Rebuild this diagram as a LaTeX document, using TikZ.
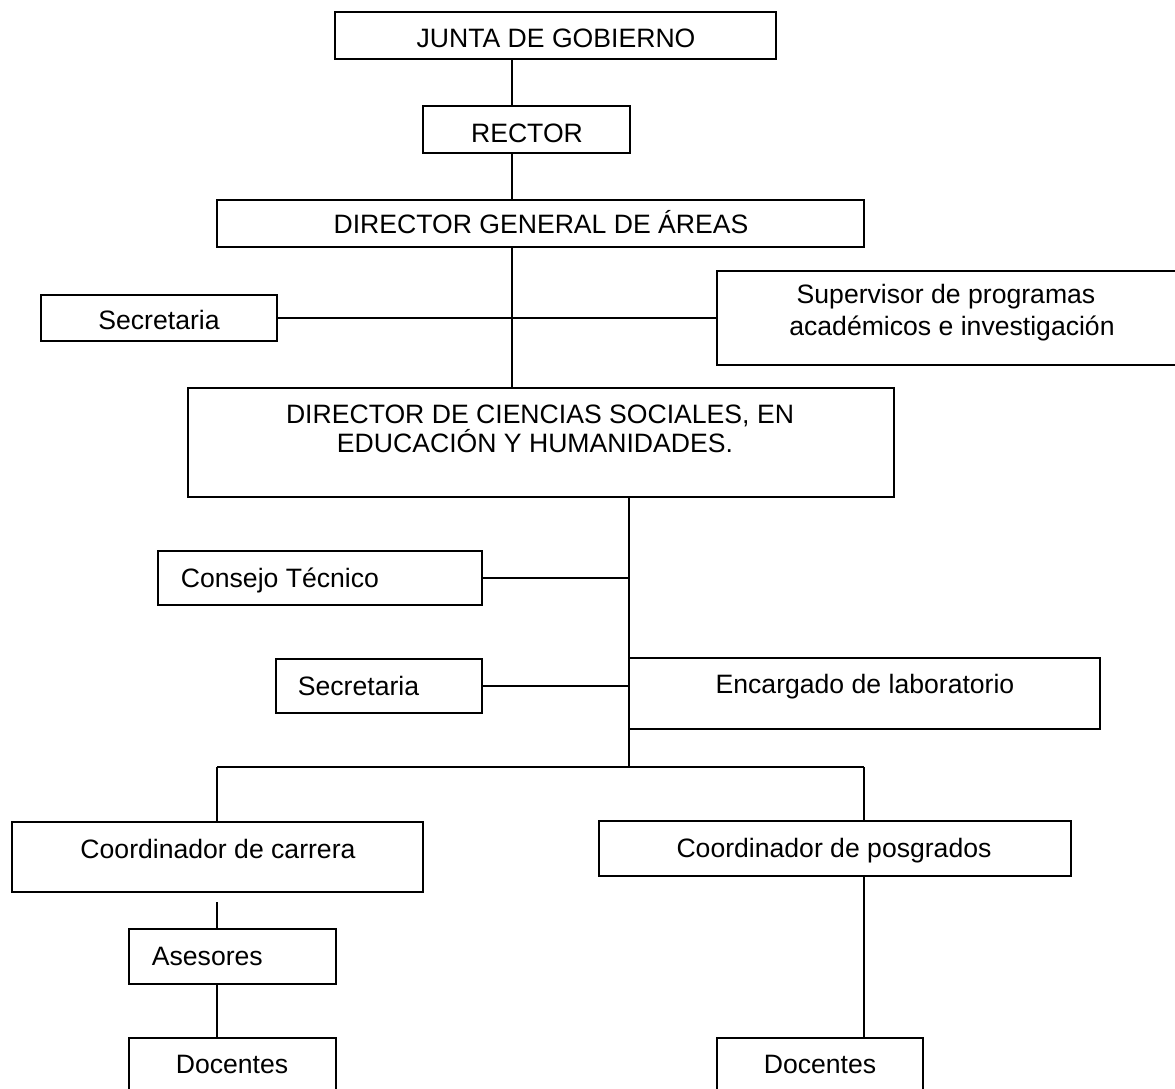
\documentclass[tikz,border=0pt]{standalone}
\usepackage{fontspec}
\setmainfont{Liberation Sans}
\begin{document}
\begin{tikzpicture}[x=1pt,y=-1pt,
  line width=1.8pt,
  box/.style={draw=black, rectangle, inner sep=0pt, outer sep=0pt},
  lbl/.style={inner sep=0pt, font=\fontsize{26.6}{31}\selectfont, align=center},
  conn/.style={draw=black, line width=1.8pt}]
\useasboundingbox[fill=white] (0,0) rectangle (1175,1088);

% box from corner (x1,y1) to corner (x2,y2)
\newcommand\orgbox[5]{%
  \node[box, minimum width={(#4-#2)*1pt}, minimum height={(#5-#3)*1pt}]
    (#1) at ({(#2+#4)/2},{(#3+#5)/2}) {};}

\orgbox{junta}{335}{12}{776}{59}
\orgbox{rector}{423}{106}{630}{153}
\orgbox{dga}{217}{200}{864}{247}
\orgbox{sec1}{41}{295}{277}{341}
\orgbox{sup}{717}{271}{1182}{365}
\orgbox{dir}{188}{388}{894}{497}
\orgbox{cons}{158}{551}{482}{605}
\orgbox{sec2}{276}{659}{482}{713}
\orgbox{enc}{629}{658}{1100}{729}
\orgbox{ccar}{12}{822}{423}{892}
\orgbox{cpos}{599}{821}{1071}{876}
\orgbox{ases}{129}{929}{336}{984}
\orgbox{docL}{129}{1038}{336}{1096}
\orgbox{docR}{717}{1038}{923}{1096}

% labels
\node[lbl, anchor=base] (junta-t) at (556,47) {JUNTA DE GOBIERNO};
\node[lbl, anchor=base] (rector-t) at (527,142) {RECTOR};
\node[lbl, anchor=base] (dga-t) at (541,233) {DIRECTOR GENERAL DE ÁREAS};
\node[lbl, anchor=base] (sec1-t) at (159,329) {Secretaria};
\node[lbl, anchor=base] (sup-t1) at (946,303) {Supervisor de programas};
\node[lbl, anchor=base] (sup-t2) at (952,335) {académicos e investigación};
\node[lbl, anchor=base] (dir-t1) at (540,423) {DIRECTOR DE CIENCIAS SOCIALES, EN};
\node[lbl, anchor=base] (dir-t2) at (535,452) {EDUCACIÓN Y HUMANIDADES.};
\node[lbl, anchor=base west] (cons-t) at (180,587) {Consejo Técnico};
\node[lbl, anchor=base west] (sec2-t) at (297,695) {Secretaria};
\node[lbl, anchor=base] (enc-t) at (865,693) {Encargado de laboratorio};
\node[lbl, anchor=base] (ccar-t) at (218,858) {Coordinador de carrera};
\node[lbl, anchor=base] (cpos-t) at (834,857) {Coordinador de posgrados};
\node[lbl, anchor=base west] (ases-t) at (151,965) {Asesores};
\node[lbl, anchor=base] (docL-t) at (232,1073) {Docentes};
\node[lbl, anchor=base] (docR-t) at (820,1073) {Docentes};

% connector guides
\coordinate (spineA) at (512,0);
\coordinate (spineB) at (629,0);
\coordinate (busL) at (217,767);
\coordinate (busR) at (864,767);
\coordinate (gapL) at (217,902);

% connectors
\draw[conn] (junta.south -| spineA) -- (rector.north -| spineA);
\draw[conn] (rector.south -| spineA) -- (dga.north -| spineA);
\draw[conn] (dga.south -| spineA) -- (dir.north -| spineA);
\draw[conn] (sec1.east) -- (sec1.east -| sup.west);
\draw[conn] (dir.south -| spineB) -- (busL -| spineB);
\draw[conn] (cons.east) -- (cons.east -| spineB);
\draw[conn] (sec2.east) -- (sec2.east -| spineB);
\draw[conn] (busL) -- (busR);
\draw[conn] (busL) -- (ccar.north -| busL);
\draw[conn] (busR) -- (cpos.north -| busR);
\draw[conn] (gapL) -- (ases.north -| gapL);
\draw[conn] (ases.south -| gapL) -- (docL.north -| gapL);
\draw[conn] (cpos.south -| busR) -- (docR.north -| busR);
\end{tikzpicture}
\end{document}
